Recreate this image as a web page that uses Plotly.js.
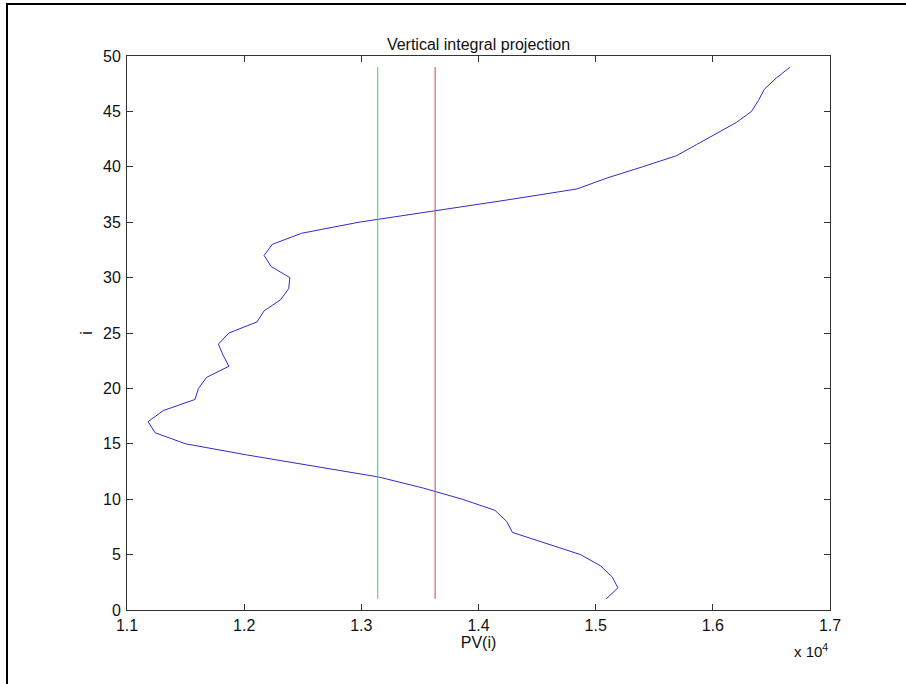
<!DOCTYPE html>
<html>
<head>
<meta charset="utf-8">
<script src="https://cdn.plot.ly/plotly-3.0.1.min.js"></script>
<style>
  html, body { margin: 0; padding: 0; background: #fff; }
  #wrap { position: relative; width: 906px; height: 684px; overflow: hidden; }
  #chart { position: absolute; left: 0; top: 0; width: 906px; height: 684px; }
  #frame { position: absolute; left: 6px; top: 3px; width: 910px; height: 700px;
           border-left: 2px solid #000; border-top: 2px solid #000; pointer-events: none; }
</style>
</head>
<body>
<div id="wrap">
  <div id="chart"></div>
  <div id="frame"></div>
</div>
<script>
// Row index i
const rowIndex = [1,2,3,4,5,6,7,8,9,10,11,12,13,14,15,16,17,18,19,20,21,22,23,24,25,
                  26,27,28,29,30,31,32,33,34,35,36,37,38,39,40,41,42,43,44,45,46,47,48,49];
// PV(i) in units of 10^4
const pvValues = [1.509,1.519,1.514,1.504,1.487,1.458,1.429,1.424,1.414,1.386,
                  1.353,1.315,1.257,1.202,1.150,1.124,1.118,1.131,1.158,1.161,
                  1.168,1.187,1.182,1.178,1.187,1.211,1.217,1.231,1.238,1.239,
                  1.223,1.217,1.224,1.249,1.298,1.363,1.424,1.484,1.510,1.540,
                  1.569,1.586,1.603,1.620,1.633,1.639,1.644,1.654,1.666];
// Threshold lines (units of 10^4) and their extent in i
const greenLevel = 1.314;
const redLevel = 1.363;
const lineSpan = [1, 49];

const xTickVals = [1.1,1.2,1.3,1.4,1.5,1.6,1.7];
const xTickText = ['1.1','1.2','1.3','1.4','1.5','1.6','1.7'];
const yTickVals = [0,5,10,15,20,25,30,35,40,45,50];
const yTickText = ['0','5','10','15','20','25','30','35','40','45','50'];

const font = 'Liberation Sans, Arial, sans-serif';

const traces = [
  { x: pvValues, y: rowIndex, type: 'scatter', mode: 'lines',
    line: { color: 'rgb(45,45,200)', width: 1 }, hoverinfo: 'skip' },
  { x: [greenLevel, greenLevel], y: lineSpan, type: 'scatter', mode: 'lines',
    line: { color: 'rgb(60,215,60)', width: 1 }, hoverinfo: 'skip' },
  { x: [redLevel, redLevel], y: lineSpan, type: 'scatter', mode: 'lines',
    line: { color: 'rgb(200,70,70)', width: 1 }, hoverinfo: 'skip' }
];

const axisCommon = {
  showgrid: false, zeroline: false, showline: true, linecolor: '#333', linewidth: 1,
  mirror: 'ticks', ticks: 'inside', ticklen: 6, tickcolor: '#333', tickwidth: 1,
  tickfont: { family: font, size: 16, color: '#111' }
};

const layout = {
  width: 906, height: 684,
  margin: { l: 127, r: 76, t: 56, b: 74 },
  paper_bgcolor: '#fff', plot_bgcolor: '#fff',
  showlegend: false,
  title: { text: 'Vertical integral projection', font: { family: font, size: 16, color: '#111' },
           x: 0.5, xanchor: 'center', xref: 'paper', y: 1, yref: 'paper', yanchor: 'bottom',
           pad: { b: 6 } },
  xaxis: Object.assign({}, axisCommon, {
    range: [1.1, 1.7], tickvals: xTickVals, ticktext: xTickText,
    ticklabelstandoff: 1,
    title: { text: 'PV(i)', font: { family: font, size: 16, color: '#111' }, standoff: 2 }
  }),
  yaxis: Object.assign({}, axisCommon, {
    range: [0, 50], tickvals: yTickVals, ticktext: yTickText,
    ticklabelstandoff: 2,
    title: { text: 'i', font: { family: font, size: 16, color: '#111' }, standoff: 6 }
  }),
  annotations: [
    { text: 'x 10<sup>4</sup>', xref: 'paper', yref: 'paper', x: 1, y: -0.052,
      xanchor: 'right', yanchor: 'top', showarrow: false,
      font: { family: font, size: 15, color: '#111' } }
  ]
};

Plotly.newPlot('chart', traces, layout, { displayModeBar: false, staticPlot: true });
</script>
</body>
</html>
